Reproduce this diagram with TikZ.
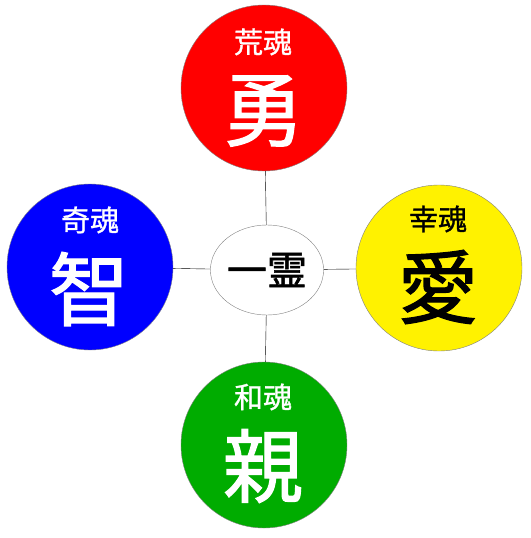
\documentclass[tikz,border=0pt]{standalone}
\usepackage{fontspec}
\usepackage{tikz}
\usetikzlibrary{shapes.geometric}
\newfontfamily\jpfont[FakeBold=1]{Noto Sans CJK JP}
\newfontfamily\jpbig[FakeBold=1.5]{Noto Sans CJK JP}
\definecolor{tamagreen}{RGB}{0,172,0}

\begin{document}
\begin{tikzpicture}[x=1pt,y=-1pt,
    soul/.style={circle, draw=gray, minimum size=166pt, inner sep=0pt},
    small/.style={inner sep=0pt, font=\jpfont\fontsize{29}{29}\selectfont},
    big/.style={inner sep=0pt, font=\jpbig\fontsize{80}{80}\selectfont}]
        \useasboundingbox (0,0) rectangle (530,538);

            % four souls and the one spirit
            \node [soul, fill=red] (ara) at (264,88) {};
            \node [soul, fill=blue] (kushi) at (90,267) {};
            \node [soul, fill=yellow] (saki) at (439,268) {};
            \node [soul, fill=tamagreen] (nigi) at (264,445) {};
            \node [ellipse, draw=gray, minimum width=112pt, minimum height=90pt,
                   inner sep=0pt, font=\jpbig\fontsize{40}{40}\selectfont] (ichi) at (267,270) {一霊};

            \draw (ara) -- (ichi);
            \draw (nigi) -- (ichi);
            \draw (kushi) -- (ichi);
            \draw (saki) -- (ichi);

            \node [small, text=white] (araname) at (263,42) {荒魂};
            \node [big, text=white] (arachar) at (263,111) {勇};
            \node [small, text=white] (kushiname) at (90,220) {奇魂};
            \node [big, text=white] (kushichar) at (89,289) {智};
            \node [small] (sakiname) at (438,219) {幸魂};
            \node [big] (sakichar) at (438,287) {愛};
            \node [small, text=white] (niginame) at (263,397) {和魂};
            \node [big, text=white] (nigichar) at (263,466) {親};
     \end{tikzpicture}
\end{document}
